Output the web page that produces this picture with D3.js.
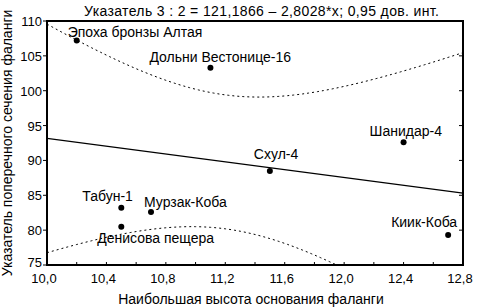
<!DOCTYPE html>
<html>
<head>
<meta charset="utf-8">
<script src="https://cdn.jsdelivr.net/npm/d3@7"></script>
<style>
  body { margin: 0; background: #fff; }
  text { font-family: "Liberation Sans", Arial, sans-serif; fill: #000; }
</style>
</head>
<body>
<div id="chart"></div>
<script>
// data
const names = ["Эпоха бронзы Алтая", "Дольни Вестонице-16", "Шанидар-4", "Схул-4",
               "Киик-Коба", "Табун-1", "Мурзак-Коба", "Денисова пещера"];
const xVals = [10.2, 11.1, 12.4, 11.5, 12.7, 10.5, 10.7, 10.5];
const yVals = [107.2, 103.3, 92.6, 88.5, 79.3, 83.2, 82.6, 80.5];
const intercept = 121.1866;
const slope = -2.8028;
const xTicks = [10.0, 10.4, 10.8, 11.2, 11.6, 12.0, 12.4, 12.8];
const yTicks = [75, 80, 85, 90, 95, 100, 105, 110];
const title = "Указатель 3 : 2 = 121,1866 – 2,8028*x; 0,95 дов. инт.";
const xTitle = "Наибольшая высота основания фаланги";
const yTitle = "Указатель поперечного сечения фаланги";

// label placement relative to point (dx of text start, dy of baseline)
const labelOff = [[-9, -4], [-61, -6], [-34, -6], [-16, -12], [-57, -8], [-39, -7], [-7, -5], [-24, 16]];

const width = 477, height = 308;
const m = { left: 47, right: 463, top: 21, bottom: 265 };

const x = d3.scaleLinear().domain([10, 12.8]).range([m.left, m.right]);
const y = d3.scaleLinear().domain([75, 110]).range([m.bottom, m.top]);
const fmt = d => d3.format(".1f")(d).replace(".", ",");

const svg = d3.select("#chart").append("svg")
    .attr("width", width)
    .attr("height", height);

svg.append("defs").append("clipPath").attr("id", "clip")
  .append("rect")
    .attr("x", m.left).attr("y", m.top)
    .attr("width", m.right - m.left).attr("height", m.bottom - m.top);

// 95% confidence band of the regression mean
const n = xVals.length;
const xm = d3.mean(xVals);
const sxx = d3.sum(xVals, v => (v - xm) * (v - xm));
const sse = d3.sum(xVals, (v, i) => Math.pow(yVals[i] - (intercept + slope * v), 2));
const s = Math.sqrt(sse / (n - 2));
const t = 2.4469; // t(0.975, 6)
const fit = v => intercept + slope * v;
const half = v => t * s * Math.sqrt(1 / n + (v - xm) * (v - xm) / sxx);
const grid = d3.range(0, 141).map(i => 10 + i * 0.02);

const plot = svg.append("g").attr("clip-path", "url(#clip)");
const line = d3.line().x(d => x(d[0])).y(d => y(d[1]));

plot.append("path")
    .attr("d", line(grid.map(v => [v, fit(v) + half(v)])))
    .attr("fill", "none").attr("stroke", "#000").attr("stroke-width", 1)
    .attr("stroke-dasharray", "2,3");
plot.append("path")
    .attr("d", line(grid.map(v => [v, fit(v) - half(v)])))
    .attr("fill", "none").attr("stroke", "#000").attr("stroke-width", 1)
    .attr("stroke-dasharray", "2,3");
plot.append("path")
    .attr("d", line([[10, fit(10)], [12.8, fit(12.8)]]))
    .attr("fill", "none").attr("stroke", "#000").attr("stroke-width", 1.2);

// frame
svg.append("rect")
    .attr("x", m.left).attr("y", m.top)
    .attr("width", m.right - m.left).attr("height", m.bottom - m.top)
    .attr("fill", "none").attr("stroke", "#000").attr("stroke-width", 2);

// y ticks: outward on left, inward on right
svg.selectAll(".ytl").data(yTicks).enter().append("line")
    .attr("x1", m.left - 4).attr("x2", m.left)
    .attr("y1", d => y(d)).attr("y2", d => y(d))
    .attr("stroke", "#000");
svg.selectAll(".ytr").data(yTicks).enter().append("line")
    .attr("x1", m.right - 4).attr("x2", m.right)
    .attr("y1", d => y(d)).attr("y2", d => y(d))
    .attr("stroke", "#000");
svg.selectAll(".ylab").data(yTicks).enter().append("text")
    .attr("x", m.left - 5).attr("y", (d, i) => y(d) + (i === 0 ? 2 : 5))
    .attr("text-anchor", "end").attr("font-size", 13)
    .text(d => d);

// x ticks: inward every 0.2
svg.selectAll(".xt").data(d3.range(0, 15).map(i => 10 + i * 0.2)).enter().append("line")
    .attr("x1", d => x(d)).attr("x2", d => x(d))
    .attr("y1", m.bottom - 3).attr("y2", m.bottom)
    .attr("stroke", "#000");
svg.selectAll(".xlab").data(xTicks).enter().append("text")
    .attr("x", d => x(d) - 3).attr("y", 283)
    .attr("text-anchor", "middle").attr("font-size", 13)
    .text(fmt);

// points and labels
const pts = svg.append("g");
pts.selectAll("circle").data(names).enter().append("circle")
    .attr("cx", (d, i) => x(xVals[i]))
    .attr("cy", (d, i) => y(yVals[i]))
    .attr("r", 3).attr("fill", "#000");
pts.selectAll("text").data(names).enter().append("text")
    .attr("x", (d, i) => x(xVals[i]) + labelOff[i][0])
    .attr("y", (d, i) => y(yVals[i]) + labelOff[i][1])
    .attr("font-size", 14)
    .text(d => d);

// titles
svg.append("text").attr("x", 84).attr("y", 16)
    .attr("font-size", 14)
    .attr("textLength", 355).attr("lengthAdjust", "spacing")
    .text(title);
svg.append("text").attr("x", 251).attr("y", 304)
    .attr("text-anchor", "middle").attr("font-size", 14).text(xTitle);
svg.append("text")
    .attr("transform", `translate(12,${(m.top + m.bottom) / 2}) rotate(-90)`)
    .attr("text-anchor", "middle").attr("font-size", 14).text(yTitle);
</script>
</body>
</html>
